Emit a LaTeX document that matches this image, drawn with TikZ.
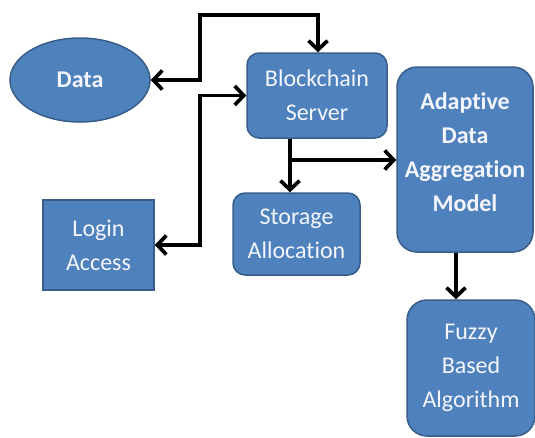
\documentclass[tikz,border=0pt]{standalone}
\usepackage{fontspec}
\setmainfont{Carlito}[Ligatures=NoCommon]
\usetikzlibrary{arrows.meta,shapes.geometric}
\definecolor{boxfill}{HTML}{4F81BD}
\definecolor{boxline}{HTML}{385D8A}
\definecolor{txt}{HTML}{F4F6FF}
\begin{document}
\begin{tikzpicture}[x=1pt,y=-1pt,
  base/.style={fill=boxfill,draw=boxline,line width=1.5pt,text=txt,align=center,
    font=\fontsize{24}{34}\selectfont,inner sep=0pt},
  rbox/.style={base,rectangle,rounded corners=12pt},
  sbox/.style={base,rectangle},
  oval/.style={base,ellipse},
  conn/.style={line width=3.7pt,-{Straight Barb[length=9pt,width=19pt,line width=3.7pt]}},
  dconn/.style={line width=3.7pt,{Straight Barb[length=9pt,width=19pt,line width=3.7pt]}-{Straight Barb[length=9pt,width=19pt,line width=3.7pt]}}]
\useasboundingbox (0,0) rectangle (535,437);
\node[oval,minimum width=140pt,minimum height=84pt,font=\fontsize{24}{34}\selectfont\bfseries] (data) at (80,80) {Data};
\node[rbox,minimum width=140pt,minimum height=85pt] (bc) at (317,95.5) {Blockchain\\Server};
\node[rbox,rounded corners=20pt,minimum width=136pt,minimum height=185pt,font=\fontsize{24}{34}\selectfont\bfseries] (ad) at (465,159.5) {Adaptive\\Data\\Aggregation\\Model\\[-20pt]};
\node[rbox,minimum width=127pt,minimum height=82pt] (st) at (296.5,234) {Storage\\Allocation};
\node[sbox,minimum width=111pt,minimum height=90pt] (lg) at (98.5,245) {Login\\Access};
\node[rbox,rounded corners=20pt,minimum width=128pt,minimum height=136pt] (fz) at (471,368) {Fuzzy\\Based\\Algorithm};
\coordinate (t1) at (200,15);
\coordinate (t2) at (318,15);
\coordinate (j2) at (200,97);
\coordinate (s1) at (290,160);
\coordinate (f1) at (456,0);
\draw[dconn] (data.east) -| (t1) -- (t2) -- (bc.north -| t2);
\draw[dconn] (lg.east) -| (j2) |- (bc.west);
\draw[conn] (bc.south -| s1) -- (st.north -| s1);
\draw[conn] (s1) -- (ad.west |- s1);
\draw[conn] (ad.south -| f1) -- (fz.north -| f1);
\end{tikzpicture}
\end{document}
